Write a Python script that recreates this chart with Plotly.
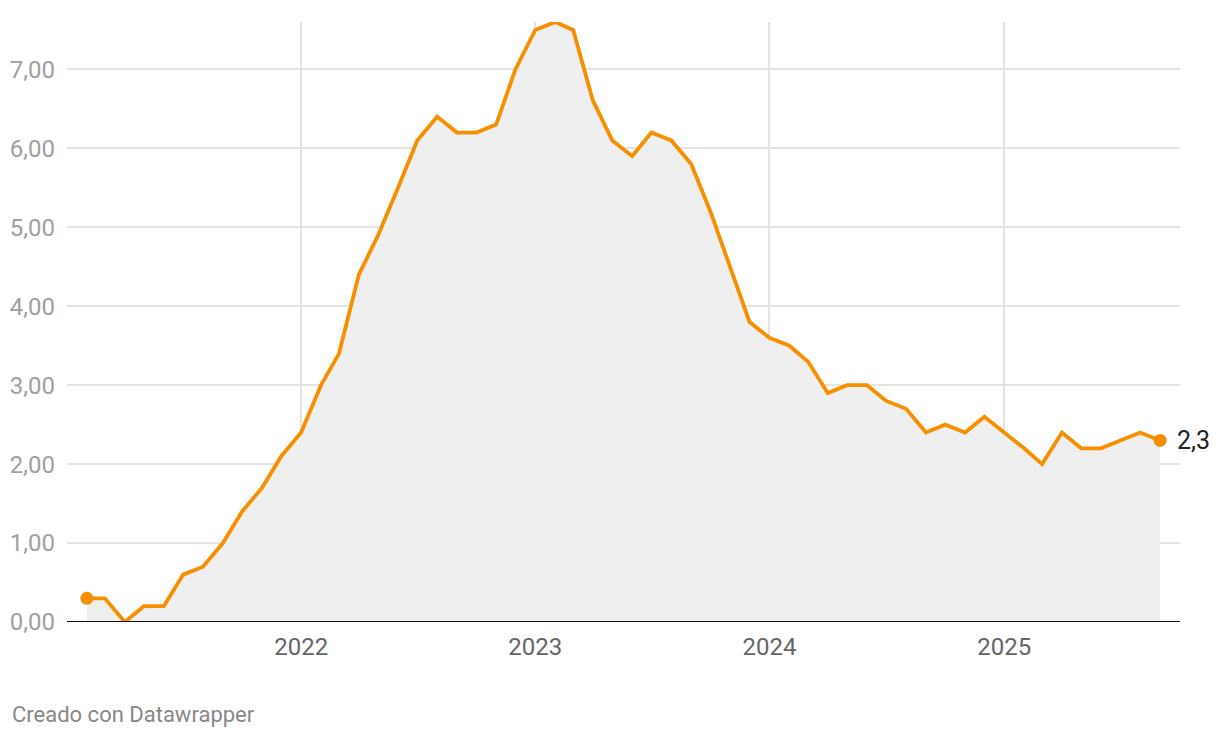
import plotly.graph_objects as go
import pandas as pd

# Monthly values, Feb 2021 – Sep 2025
start_month = "2021-02-01"
values = [
    0.3, 0.3, 0.0, 0.2, 0.2, 0.6, 0.7, 1.0, 1.4, 1.7, 2.1,          # Feb–Dec 2021
    2.4, 3.0, 3.4, 4.4, 4.9, 5.5, 6.1, 6.4, 6.2, 6.2, 6.3, 7.0,     # 2022
    7.5, 7.6, 7.5, 6.6, 6.1, 5.9, 6.2, 6.1, 5.8, 5.2, 4.5, 3.8,     # 2023
    3.6, 3.5, 3.3, 2.9, 3.0, 3.0, 2.8, 2.7, 2.4, 2.5, 2.4, 2.6,     # 2024
    2.4, 2.2, 2.0, 2.4, 2.2, 2.2, 2.3, 2.4, 2.3,                    # Jan–Sep 2025
]
dates = pd.date_range(start_month, periods=len(values), freq="MS")

y_ticks = [0, 1, 2, 3, 4, 5, 6, 7]
y_tick_labels = ["0,00", "1,00", "2,00", "3,00", "4,00", "5,00", "6,00", "7,00"]
x_ticks = ["2022-01-01", "2023-01-01", "2024-01-01", "2025-01-01"]
x_tick_labels = ["2022", "2023", "2024", "2025"]
end_label = "2,3"
credit = "Creado con Datawrapper"

ORANGE = "#f78f00"
FONT = "Roboto"

# page has an 8px body margin; figure sized so plot sits where the reference has it
W, H = 1212, 730
L, R, T, B = 59, 40, 14, 116

fig = go.Figure()
fig.add_trace(go.Scatter(
    x=dates, y=values, mode="lines",
    line=dict(color=ORANGE, width=3.8),
    fill="tozeroy", fillcolor="#efefef",
    hoverinfo="skip", showlegend=False,
))
fig.add_trace(go.Scatter(
    x=[dates[0], dates[-1]], y=[values[0], values[-1]], mode="markers",
    marker=dict(color=ORANGE, size=13),
    hoverinfo="skip", showlegend=False,
))

fig.add_annotation(
    x=dates[-1], y=values[-1], text=end_label, showarrow=False,
    xanchor="left", yanchor="middle", xshift=15,
    font=dict(family=FONT, size=25, color="#222222"),
)
plot_w = W - L - R
plot_h = H - T - B
fig.add_annotation(
    xref="paper", yref="paper", x=(2 - L) / plot_w, y=-(706 - (H - B)) / plot_h,
    text=credit, showarrow=False, xanchor="left", yanchor="middle",
    font=dict(family=FONT, size=22, color="#888888"),
)

# baseline at zero
fig.add_shape(type="line", xref="paper", yref="y", x0=0, x1=1, y0=0, y1=0,
              line=dict(color="#111111", width=2), layer="above")

fig.update_layout(
    width=W, height=H,
    margin=dict(l=L, r=R, t=T, b=B, autoexpand=False),
    paper_bgcolor="white", plot_bgcolor="white",
    font=dict(family=FONT),
    xaxis=dict(
        range=["2021-01-01", "2025-10-02"],
        tickvals=x_ticks, ticktext=x_tick_labels,
        showgrid=True, gridcolor="#e3e3e3", gridwidth=2,
        zeroline=False, showline=False, automargin=False,
        tickfont=dict(family=FONT, size=24, color="#666666"),
        ticks="", ticklabelstandoff=8,
    ),
    yaxis=dict(
        range=[0, 7.6],
        tickvals=y_ticks, ticktext=y_tick_labels,
        showgrid=True, gridcolor="#e3e3e3", gridwidth=1.5,
        zeroline=False, showline=False, automargin=False,
        tickfont=dict(family=FONT, size=24, color="#a0a0a0"),
        ticks="", ticklabelstandoff=11,
    ),
)

fig.write_html("out.html")
